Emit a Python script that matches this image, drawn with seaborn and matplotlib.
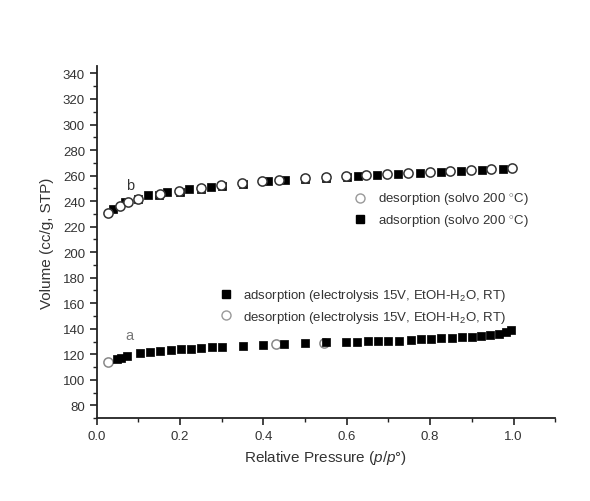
import matplotlib
matplotlib.use("Agg")
import matplotlib.pyplot as plt
import seaborn as sns
import numpy as np
from matplotlib.lines import Line2D

# sample b (solvo 200 C) - adsorption
b_ads_p = [0.039, 0.067, 0.10, 0.123, 0.15, 0.169, 0.20, 0.221, 0.25, 0.273, 0.30, 0.35,
           0.411, 0.451, 0.50, 0.55, 0.60, 0.627, 0.672, 0.723, 0.775, 0.827, 0.875, 0.925, 0.974]
b_ads_v = [234.0, 239.0, 241.5, 244.6, 245.0, 247.3, 247.5, 249.4, 249.8, 251.2, 251.8, 253.3,
           256.0, 256.7, 257.0, 258.2, 259.0, 259.5, 260.3, 261.0, 261.8, 262.6, 263.3, 264.0, 265.0]
# sample b - desorption
b_des_p = [0.026, 0.055, 0.075, 0.098, 0.151, 0.197, 0.249, 0.297, 0.349, 0.397, 0.437, 0.499,
           0.549, 0.599, 0.647, 0.697, 0.747, 0.799, 0.848, 0.897, 0.946, 0.997]
b_des_v = [231.0, 236.0, 239.0, 242.0, 245.7, 248.0, 250.4, 252.5, 253.9, 256.0, 256.7, 257.8,
           259.0, 260.0, 260.6, 261.5, 262.3, 263.0, 263.7, 264.4, 265.0, 265.9]

# sample a (electrolysis) - adsorption
a_ads_p = [0.049, 0.059, 0.073, 0.103, 0.127, 0.151, 0.177, 0.201, 0.227, 0.251, 0.277, 0.30,
           0.351, 0.399, 0.449, 0.50, 0.551, 0.599, 0.624, 0.651, 0.675, 0.698, 0.725, 0.755,
           0.779, 0.803, 0.827, 0.853, 0.877, 0.901, 0.922, 0.944, 0.966, 0.981, 0.994]
a_ads_v = [116.2, 117.5, 118.8, 120.7, 121.5, 122.5, 123.3, 123.8, 124.3, 124.9, 125.4, 125.9,
           126.7, 127.5, 128.3, 128.9, 129.3, 129.7, 129.9, 130.1, 130.3, 130.5, 130.6, 131.4,
           131.8, 132.2, 132.6, 133.1, 133.4, 133.8, 134.3, 134.9, 136.2, 137.5, 138.8]
# sample a - desorption
a_des_p = [0.026, 0.429, 0.545]
a_des_v = [114.1, 128.3, 129.2]

sns.set_style("ticks")
plt.rcParams['font.family'] = ['Liberation Sans', 'DejaVu Sans']
plt.rcParams['mathtext.fontset'] = 'custom'
plt.rcParams['mathtext.it'] = 'Liberation Sans:italic'
plt.rcParams['mathtext.rm'] = 'Liberation Sans'

fig = plt.figure(figsize=(5.9, 5.02), dpi=100)
ax = fig.add_axes([0.164, 0.165, 0.777, 0.702])

txt = '#333333'

# b: squares below, circles on top
sns.scatterplot(x=b_ads_p, y=b_ads_v, marker='s', s=34, color='black',
                edgecolor='black', linewidth=0.5, ax=ax, zorder=3)
ax.scatter(b_des_p, b_des_v, marker='o', s=44, facecolor='white',
           edgecolor='#333333', linewidth=1.1, zorder=4)

# a: circles below, squares on top
ax.scatter(a_des_p, a_des_v, marker='o', s=44, facecolor='white',
           edgecolor='#888888', linewidth=1.1, zorder=3)
sns.scatterplot(x=a_ads_p, y=a_ads_v, marker='s', s=34, color='black',
                edgecolor='black', linewidth=0.5, ax=ax, zorder=4)

ax.set_xlim(0, 1.1)
ax.set_ylim(70, 346)
ax.set_xticks(np.arange(0, 1.01, 0.2))
ax.set_xticks(np.arange(0, 1.11, 0.1), minor=True)
ax.set_yticks(np.arange(80, 341, 20))
ax.set_yticks(np.arange(70, 346, 10), minor=True)
ax.set_xticklabels([f'{v:.1f}' for v in np.arange(0, 1.01, 0.2)])

for s in ['left', 'bottom']:
    ax.spines[s].set_linewidth(1.3)
    ax.spines[s].set_color('#222222')
sns.despine(ax=ax)
ax.tick_params(which='major', direction='out', length=5, width=1.2,
               labelsize=9.5, labelcolor=txt, color='#222222')
ax.tick_params(which='minor', direction='out', length=3, width=1.0, color='#222222')

ax.set_xlabel('Relative Pressure ($p/p$°)', fontsize=11, color=txt, labelpad=4)
ax.set_ylabel('Volume (cc/g, STP)', fontsize=11, color=txt, labelpad=6)

ax.text(0.079, 252.5, 'b', fontsize=10.5, color='#333333', ha='center', va='center')
ax.text(0.079, 135, 'a', fontsize=10.5, color='#777777', ha='center', va='center')

h_des = Line2D([], [], marker='o', linestyle='none', markersize=6.5,
               markerfacecolor='white', markeredgecolor='#999999', markeredgewidth=1.0)
h_ads = Line2D([], [], marker='s', linestyle='none', markersize=5.8,
               markerfacecolor='black', markeredgecolor='black')

leg1 = ax.legend([h_des, h_ads],
                 ['desorption (solvo 200 $^{\\circ}$C)', 'adsorption (solvo 200 $^{\\circ}$C)'],
                 loc='upper left', bbox_to_anchor=(0.535, 0.68), frameon=False,
                 fontsize=9.5, labelcolor=txt, handletextpad=0.8, labelspacing=0.35,
                 handlelength=1.0)
ax.add_artist(leg1)
leg2 = ax.legend([h_ads, h_des],
                 ['adsorption (electrolysis 15V, EtOH-H$_2$O, RT)',
                  'desorption (electrolysis 15V, EtOH-H$_2$O, RT)'],
                 loc='upper left', bbox_to_anchor=(0.242, 0.405), frameon=False,
                 fontsize=9.5, labelcolor=txt, handletextpad=0.8, labelspacing=0.4,
                 handlelength=1.0)

fig.savefig('out.png', dpi=100)
